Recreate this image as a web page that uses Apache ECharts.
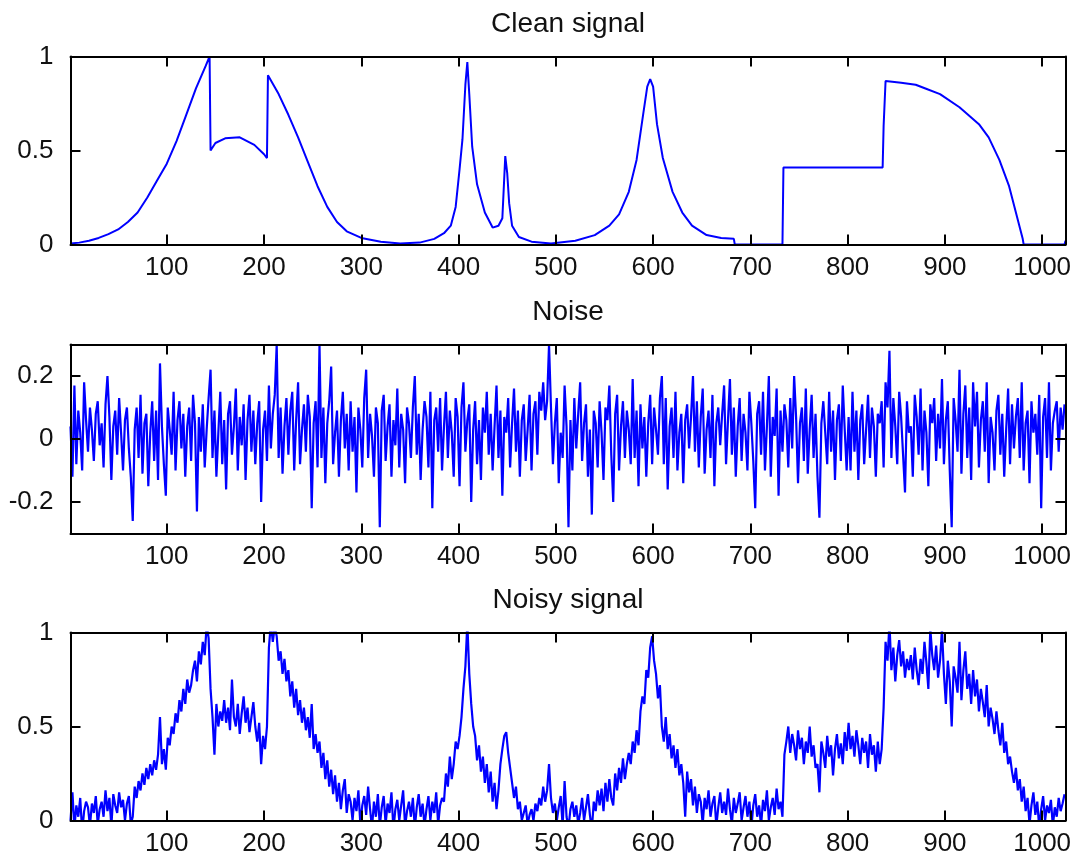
<!DOCTYPE html>
<html><head><meta charset="utf-8">
<script src="https://cdn.jsdelivr.net/npm/echarts@6/dist/echarts.min.js"></script>
<style>html,body{margin:0;padding:0;background:#fff}#c{width:1076px;height:859px}</style>
</head><body><div id="c"></div>
<script>
// ---- data ----
const titles = ['Clean signal', 'Noise', 'Noisy signal'];
const xTickValues = [100, 200, 300, 400, 500, 600, 700, 800, 900, 1000];
const yTickValues = [[0, 0.5, 1], [-0.2, 0, 0.2], [0, 0.5, 1]];
const yRanges = [[0, 1], [-0.3, 0.3], [0, 1]];
const xRange = [1, 1024];

const cleanX = [1,10,20,30,40,50,60,70,80,90,100,110,120,130,140,144,145,150,160,175,190,200,203,204,215,225,235,245,255,265,275,285,300,320,340,360,375,385,392,397,401,404,407,409,411,414,419,427,435,441,445,448,450,452,455,462,475,495,520,540,555,565,575,583,590,594,597,600,604,610,620,630,640,655,670,683,684,733,734,836,837,839,855,870,880,895,915,935,945,956,966,974,980,981,1023,1024];
const cleanY = [0.005,0.01,0.02,0.035,0.055,0.08,0.12,0.17,0.25,0.34,0.43,0.55,0.69,0.83,0.95,1.0,0.5,0.54,0.565,0.57,0.53,0.48,0.46,0.9,0.8,0.69,0.57,0.44,0.31,0.2,0.12,0.07,0.035,0.015,0.005,0.01,0.03,0.06,0.1,0.2,0.4,0.56,0.85,0.97,0.8,0.52,0.32,0.17,0.09,0.1,0.14,0.47,0.38,0.22,0.1,0.04,0.015,0.005,0.02,0.05,0.1,0.16,0.28,0.45,0.7,0.84,0.88,0.84,0.64,0.46,0.28,0.17,0.1,0.05,0.035,0.03,0,0,0.41,0.41,0.63,0.87,0.86,0.85,0.83,0.8,0.73,0.64,0.57,0.45,0.31,0.15,0.03,0,0,0.02];

// noise and noisy signal, read every 2nd sample starting at sample 1
const sampleStart = 1;
const sampleStep = 2;
const noiseValues = [
0.04,-0.12,0.17,-0.08,0.09,0.02,-0.1,0.18,0.06,-0.04,0.1,0.03,-0.07,0.08,0.12,-0.02,
0.05,-0.09,0.11,0.2,0.07,-0.13,0.04,0.09,-0.05,0.13,0.02,-0.1,0.06,0.1,-0.03,-0.12,
-0.26,0.03,0.1,-0.06,0.14,-0.11,0.05,0.08,-0.15,0.02,0.12,-0.07,0.09,-0.13,0.24,0.04,
-0.08,-0.18,0.1,0.03,-0.05,0.15,-0.1,0.06,0.12,-0.03,0.08,-0.12,0.04,0.1,-0.07,0.14,
0.05,-0.23,0.07,-0.04,0.11,-0.09,0.03,0.13,0.22,-0.06,0.09,-0.12,0.02,0.15,-0.08,0.06,
-0.16,0.08,0.12,-0.05,0.04,0.16,-0.1,0.07,-0.02,0.11,-0.13,0.06,0.14,-0.04,0.09,-0.08,
0.05,0.12,-0.2,0.03,0.09,-0.07,0.17,-0.03,0.08,0.14,0.3,-0.06,0.1,-0.11,0.04,0.13,
-0.05,0.09,0.15,-0.1,0.06,0.18,-0.08,0.03,0.11,-0.04,0.14,0.07,-0.22,0.05,0.12,-0.09,
0.3,-0.06,0.1,-0.14,0.05,0.12,0.23,-0.08,0.02,0.09,-0.12,0.06,0.15,-0.03,0.08,-0.1,
0.12,-0.04,0.07,-0.17,0.1,0.03,-0.09,0.13,0.22,-0.06,0.08,0.01,-0.12,0.1,0.05,-0.28,
0.09,0.14,-0.07,0.04,0.11,-0.12,0.06,-0.02,0.16,-0.09,0.08,0.03,-0.14,0.1,0.05,-0.06,
0.1,0.2,-0.05,0.08,-0.13,0.03,0.12,0.07,-0.09,0.15,-0.22,0.06,0.1,-0.04,0.13,-0.1,
0.04,0.15,-0.06,0.09,0.02,-0.12,0.13,0.07,-0.15,0.1,0.18,-0.04,0.06,0.11,-0.2,0.03,
0.12,-0.08,0.06,-0.13,0.1,0.02,0.15,-0.05,0.08,-0.1,0.04,0.17,-0.06,0.09,-0.18,0.07,
0.02,0.13,-0.09,0.05,0.16,-0.04,0.09,-0.12,0.06,0.11,-0.07,0.03,0.14,-0.1,0.08,0.12,
-0.05,0.15,0.09,0.18,0.06,0.12,0.3,0.1,-0.08,0.05,0.13,-0.14,0.02,-0.06,0.17,0.04,
-0.28,0.06,-0.1,0.13,-0.03,0.08,0.18,-0.07,0.05,0.11,-0.12,0.03,-0.24,0.09,0.05,-0.09,
0.12,0.02,-0.13,0.1,0.06,0.17,-0.05,-0.2,0.08,0.14,-0.1,0.04,0.12,-0.06,0.09,0.03,
-0.08,0.19,-0.06,0.09,-0.15,0.11,-0.03,0.07,-0.12,0.05,0.14,-0.08,0.1,0.03,-0.05,0.13,
0.2,-0.08,0.13,-0.16,0.04,0.1,-0.06,0.15,-0.1,0.02,0.08,-0.14,0.06,0.11,-0.03,0.07,
0.2,-0.04,0.12,-0.09,0.07,0.16,-0.11,0.03,0.09,-0.06,0.14,-0.15,0.05,0.1,-0.02,0.08,
0.17,-0.08,0.06,0.19,-0.05,0.1,-0.12,0.04,0.13,-0.07,0.08,0.02,-0.1,0.15,0.05,-0.07,
-0.22,0.08,0.12,-0.05,0.15,-0.1,0.04,0.2,-0.12,0.07,0.01,0.16,-0.18,0.09,-0.04,0.11,
0.06,-0.09,0.13,-0.03,0.2,0.07,-0.14,0.05,0.1,-0.07,0.16,-0.11,0.03,0.14,-0.06,0.08,
-0.12,-0.25,0.05,0.12,0.02,-0.08,0.15,-0.04,0.09,-0.13,0.06,0.11,-0.07,0.17,0.03,-0.1,
0.07,-0.1,0.15,-0.04,0.09,-0.13,0.06,0.11,-0.08,0.03,0.14,-0.06,0.1,0.04,-0.12,0.08,
0.05,0.12,-0.09,0.18,0.1,0.28,-0.06,0.13,0.04,-0.08,0.15,0.07,-0.05,-0.17,0.12,0.02,
0.04,-0.12,0.14,0.07,-0.05,0.16,-0.1,0.09,0.02,-0.15,0.11,0.05,0.13,-0.07,0.08,-0.03,
0.19,-0.08,0.06,0.12,-0.1,-0.28,0.13,0.06,-0.04,0.22,-0.11,0.08,0.17,-0.06,0.1,-0.13,
0.18,0.04,0.15,-0.09,0.06,0.12,-0.04,0.18,-0.14,0.07,0.02,-0.1,0.09,0.14,-0.05,0.08,
-0.12,0.03,0.16,-0.08,0.11,-0.03,0.07,0.13,-0.06,0.18,-0.1,0.05,0.09,-0.14,0.12,0.02,
0.08,-0.05,0.14,-0.22,0.07,0.13,-0.06,0.18,-0.1,0.05,0.09,0.12,-0.04,0.1,0.03,0.11
];
const noisyValues = [
0.0,0.15,-0.04,0.08,0.02,0.12,-0.06,0.05,0.1,0.07,-0.03,0.09,0.04,0.13,-0.02,0.06,
0.1,0.02,0.16,0.05,0.12,-0.03,0.14,0.08,0.04,0.15,0.07,0.11,0.0,0.09,0.13,-0.02,
0.02,0.18,0.12,0.21,0.16,0.25,0.19,0.28,0.22,0.3,0.24,0.32,0.27,0.35,0.55,0.3,
0.38,0.27,0.44,0.4,0.5,0.46,0.57,0.52,0.64,0.58,0.7,0.62,0.75,0.68,0.72,0.8,
0.85,0.74,0.9,0.83,0.95,0.88,1.04,0.97,0.7,0.55,0.35,0.62,0.5,0.58,0.53,0.64,
0.52,0.6,0.48,0.75,0.55,0.5,0.62,0.46,0.57,0.66,0.52,0.6,0.47,0.55,0.63,0.5,
0.42,0.52,0.3,0.45,0.38,0.5,0.92,1.05,0.95,1.03,0.98,0.85,0.9,0.78,0.86,0.74,
0.8,0.66,0.74,0.6,0.7,0.56,0.64,0.52,0.6,0.48,0.55,0.44,0.62,0.38,0.46,0.36,
0.42,0.28,0.36,0.22,0.32,0.18,0.27,0.14,0.24,0.1,0.2,0.06,0.16,0.22,0.04,0.14,
0.1,0.0,0.12,0.05,0.16,-0.02,0.08,0.13,0.03,0.18,0.06,-0.04,0.1,0.02,0.14,-0.03,
0.07,0.13,-0.02,0.09,0.04,0.15,-0.05,0.06,0.11,0.0,0.08,0.16,-0.03,0.05,0.1,0.02,
0.12,-0.04,0.07,0.14,0.02,0.09,-0.03,0.06,0.13,0.0,0.1,0.04,0.15,-0.02,0.08,0.12,
0.1,0.25,0.18,0.34,0.22,0.3,0.42,0.38,0.45,0.55,0.7,0.82,1.05,0.78,0.62,0.5,
0.45,0.32,0.4,0.26,0.34,0.2,0.3,0.15,0.26,0.1,0.2,0.06,0.16,0.3,0.38,0.45,
0.47,0.36,0.28,0.2,0.12,0.18,0.06,0.1,0.0,0.04,0.08,-0.02,0.03,0.06,0.0,0.09,
0.05,0.12,0.08,0.18,0.1,0.16,0.3,0.12,0.04,0.09,0.0,0.07,0.13,-0.03,0.21,0.02,
-0.04,0.06,0.1,0.02,0.08,-0.02,0.04,0.12,0.0,0.07,0.14,0.03,-0.05,0.1,0.05,0.16,
0.08,0.17,0.05,0.2,0.1,0.22,0.12,0.08,0.25,0.16,0.28,0.2,0.33,0.22,0.3,0.36,
0.3,0.42,0.36,0.48,0.4,0.58,0.66,0.62,0.8,0.76,0.92,0.98,0.85,0.78,0.65,0.72,
0.5,0.42,0.55,0.38,0.46,0.33,0.4,0.28,0.38,0.24,0.3,0.2,0.02,0.26,0.15,0.22,
0.08,0.18,0.04,0.14,0.1,-0.02,0.12,0.06,0.16,0.02,0.09,0.13,-0.03,0.07,0.15,0.04,
0.1,0.03,0.17,0.06,-0.02,0.12,0.04,0.09,0.15,0.0,0.07,0.13,0.02,0.1,-0.04,0.08,
0.14,0.02,0.08,-0.03,0.11,0.05,0.16,0.0,0.07,0.12,0.03,0.17,0.06,0.1,0.02,0.35,
0.42,0.5,0.36,0.46,0.4,0.32,0.48,0.38,0.44,0.3,0.42,0.36,0.5,0.34,0.4,0.28,
0.3,0.15,0.42,0.36,0.28,0.45,0.34,0.4,0.24,0.38,0.46,0.33,0.41,0.3,0.47,0.37,
0.52,0.38,0.45,0.34,0.48,0.4,0.3,0.44,0.36,0.42,0.28,0.46,0.35,0.4,0.26,0.42,
0.3,0.38,0.6,0.95,0.85,1.05,0.8,0.92,0.74,0.88,0.96,0.82,0.9,0.76,0.86,0.8,
0.88,0.75,0.92,0.8,0.72,0.86,0.78,0.95,0.84,0.7,1.02,0.88,0.8,0.93,0.76,0.85,
1.02,0.78,0.62,0.85,0.74,0.5,0.82,0.76,0.68,0.95,0.64,0.8,0.9,0.7,0.78,0.62,
0.8,0.66,0.75,0.58,0.7,0.63,0.55,0.72,0.5,0.6,0.54,0.46,0.58,0.48,0.4,0.52,
0.36,0.42,0.3,0.34,0.26,0.2,0.28,0.16,0.22,0.1,0.18,0.05,0.12,-0.02,0.08,0.15,
0.03,0.1,-0.04,0.06,0.13,0.0,0.08,0.04,0.11,-0.03,0.07,0.02,0.12,0.05,0.09,0.14
];

// ---- build ----
const cleanData = cleanX.map((x, i) => [x, cleanY[i]]);
const sampled = arr => arr.map((v, i) => [sampleStart + i * sampleStep, v]);
const seriesData = [cleanData, sampled(noiseValues), sampled(noisyValues)];

const FONT = '"Liberation Sans", Arial, Helvetica, sans-serif';
const gridLeft = 70.5, gridRight = 10.5;
const gridTops = [56.5, 344.5, 632.5];
const gridHeights = [188, 189, 188];
const titleY = [24, 312, 600];
const axisLineStyle = { color: '#000', width: 2 };
const tickStyle = { color: '#000', width: 2 };
const plainNum = v => String(v);

const grids = [], xAxes = [], yAxes = [], series = [], graphics = [];
for (let g = 0; g < 3; g++) {
  grids.push({ left: gridLeft, right: gridRight, top: gridTops[g], height: gridHeights[g] });
  ['bottom', 'top'].forEach((pos, k) => {
    xAxes.push({
      type: 'value', gridIndex: g, position: pos, min: xRange[0], max: xRange[1], z: 5,
      axisLine: { show: true, onZero: false, lineStyle: axisLineStyle },
      axisTick: { show: true, inside: true, length: 10, lineStyle: tickStyle, customValues: xTickValues },
      axisLabel: { show: k === 0, customValues: xTickValues, formatter: plainNum, margin: 10, fontSize: 26, fontFamily: FONT, color: '#111' },
      splitLine: { show: false }
    });
  });
  ['left', 'right'].forEach((pos, k) => {
    yAxes.push({
      type: 'value', gridIndex: g, position: pos, min: yRanges[g][0], max: yRanges[g][1], z: 5,
      axisLine: { show: true, onZero: false, lineStyle: axisLineStyle },
      axisTick: { show: true, inside: true, length: 10, lineStyle: tickStyle, customValues: yTickValues[g] },
      axisLabel: { show: k === 0, customValues: yTickValues[g], formatter: plainNum, margin: 17, fontSize: 26, fontFamily: FONT, color: '#111' },
      splitLine: { show: false }
    });
  });
  series.push({
    type: 'line', xAxisIndex: 2 * g, yAxisIndex: 2 * g, data: seriesData[g],
    symbol: 'none', showSymbol: false, clip: true, animation: false,
    lineStyle: { color: '#0000ff', width: g === 0 ? 2 : 2.2 }
  });
  graphics.push({
    type: 'text', x: (gridLeft + (1076 - gridRight)) / 2, y: titleY[g],
    style: { text: titles[g], align: 'center', verticalAlign: 'middle', fontSize: 28, fontFamily: FONT, fill: '#111' }
  });
}

const chart = echarts.init(document.getElementById('c'), null, { renderer: 'canvas' });
chart.setOption({
  animation: false,
  backgroundColor: '#fff',
  grid: grids, xAxis: xAxes, yAxis: yAxes, series: series, graphic: graphics
});
</script></body></html>
